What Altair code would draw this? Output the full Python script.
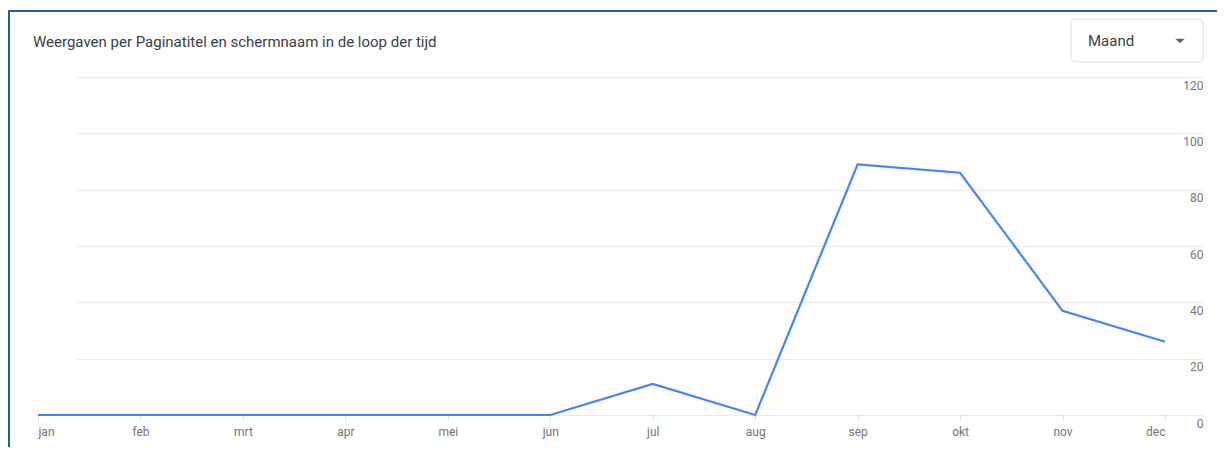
import altair as alt
import pandas as pd

months = ["jan", "feb", "mrt", "apr", "mei", "jun", "jul", "aug", "sep", "okt", "nov", "dec"]
views = [0, 0, 0, 0, 0, 0, 11, 0, 89, 86, 37, 26]
y_ticks = [0, 20, 40, 60, 80, 100, 120]
title_text = "Weergaven per Paginatitel en schermnaam in de loop der tijd"
dropdown_label = "Maand"

df = pd.DataFrame({"maand": months, "weergaven": views})
one = pd.DataFrame({"k": [0]})

W, H = 1165, 338
XR = 1127
FONT = "Roboto"
LABEL_COLOR = "#757575"

line = alt.Chart(df).mark_line(color="#4285f4", strokeWidth=2.2).encode(
    x=alt.X(
        "maand:O",
        sort=months,
        scale=alt.Scale(type="point", range=[0, XR], padding=0),
        axis=alt.Axis(
            title=None,
            labelAngle=0,
            grid=False,
            domain=False,
            ticks=True,
            tickColor="#dadce0",
            tickSize=5,
            labelPadding=6,
            labelFont=FONT,
            labelFontSize=12,
            labelColor=LABEL_COLOR,
            labelAlign={
                "condition": [
                    {"test": "datum.label == 'jan'", "value": "left"},
                    {"test": "datum.label == 'dec'", "value": "right"},
                ],
                "value": "center",
            },
        ),
    ),
    y=alt.Y(
        "weergaven:Q",
        scale=alt.Scale(domain=[0, 120], nice=False),
        axis=alt.Axis(
            orient="right",
            values=y_ticks,
            title=None,
            domain=False,
            ticks=False,
            labelAlign="right",
            labelPadding=0,
            labelBaseline="middle",
            labelOffset=8,
            labelFont=FONT,
            labelFontSize=12,
            labelColor=LABEL_COLOR,
            gridColor="#e8eaed",
            gridWidth=1,
        ),
    ),
)

border_color = "#1f6286"
top_border = alt.Chart(one).mark_rule(color=border_color, strokeWidth=2).encode(
    x=alt.value(-30), x2=alt.value(1180), y=alt.value(-66)
)
left_border = alt.Chart(one).mark_rule(color=border_color, strokeWidth=2).encode(
    x=alt.value(-29), y=alt.value(-67), y2=alt.value(372)
)

title = alt.Chart(one).mark_text(
    align="left", baseline="middle", fontSize=15, font=FONT, color="#3c4043"
).encode(x=alt.value(-5), y=alt.value(-35), text=alt.value(title_text))

dropdown_box = alt.Chart(one).mark_rect(
    fill="white", stroke="#dadce0", strokeWidth=1, cornerRadius=4
).encode(x=alt.value(1033), x2=alt.value(1165), y=alt.value(-58), y2=alt.value(-15))

dropdown_text = alt.Chart(one).mark_text(
    align="left", baseline="middle", fontSize=15, font=FONT, color="#3c4043"
).encode(x=alt.value(1050), y=alt.value(-36), text=alt.value(dropdown_label))

dropdown_caret = alt.Chart(one).mark_point(
    shape="M-1,-0.5L1,-0.5L0,0.5Z", filled=True, size=90, color="#5f6368", opacity=1
).encode(x=alt.value(1142), y=alt.value(-36))

chart = alt.layer(
    line, top_border, left_border, title, dropdown_box, dropdown_text, dropdown_caret
).properties(
    width=W,
    height=H,
    autosize=alt.AutoSizeParams(type="none"),
    padding={"left": 30, "top": 69, "right": 14, "bottom": 32},
    background="white",
).configure_view(stroke=None)

chart.save("out.html", embed_options={"renderer": "svg", "actions": False})
